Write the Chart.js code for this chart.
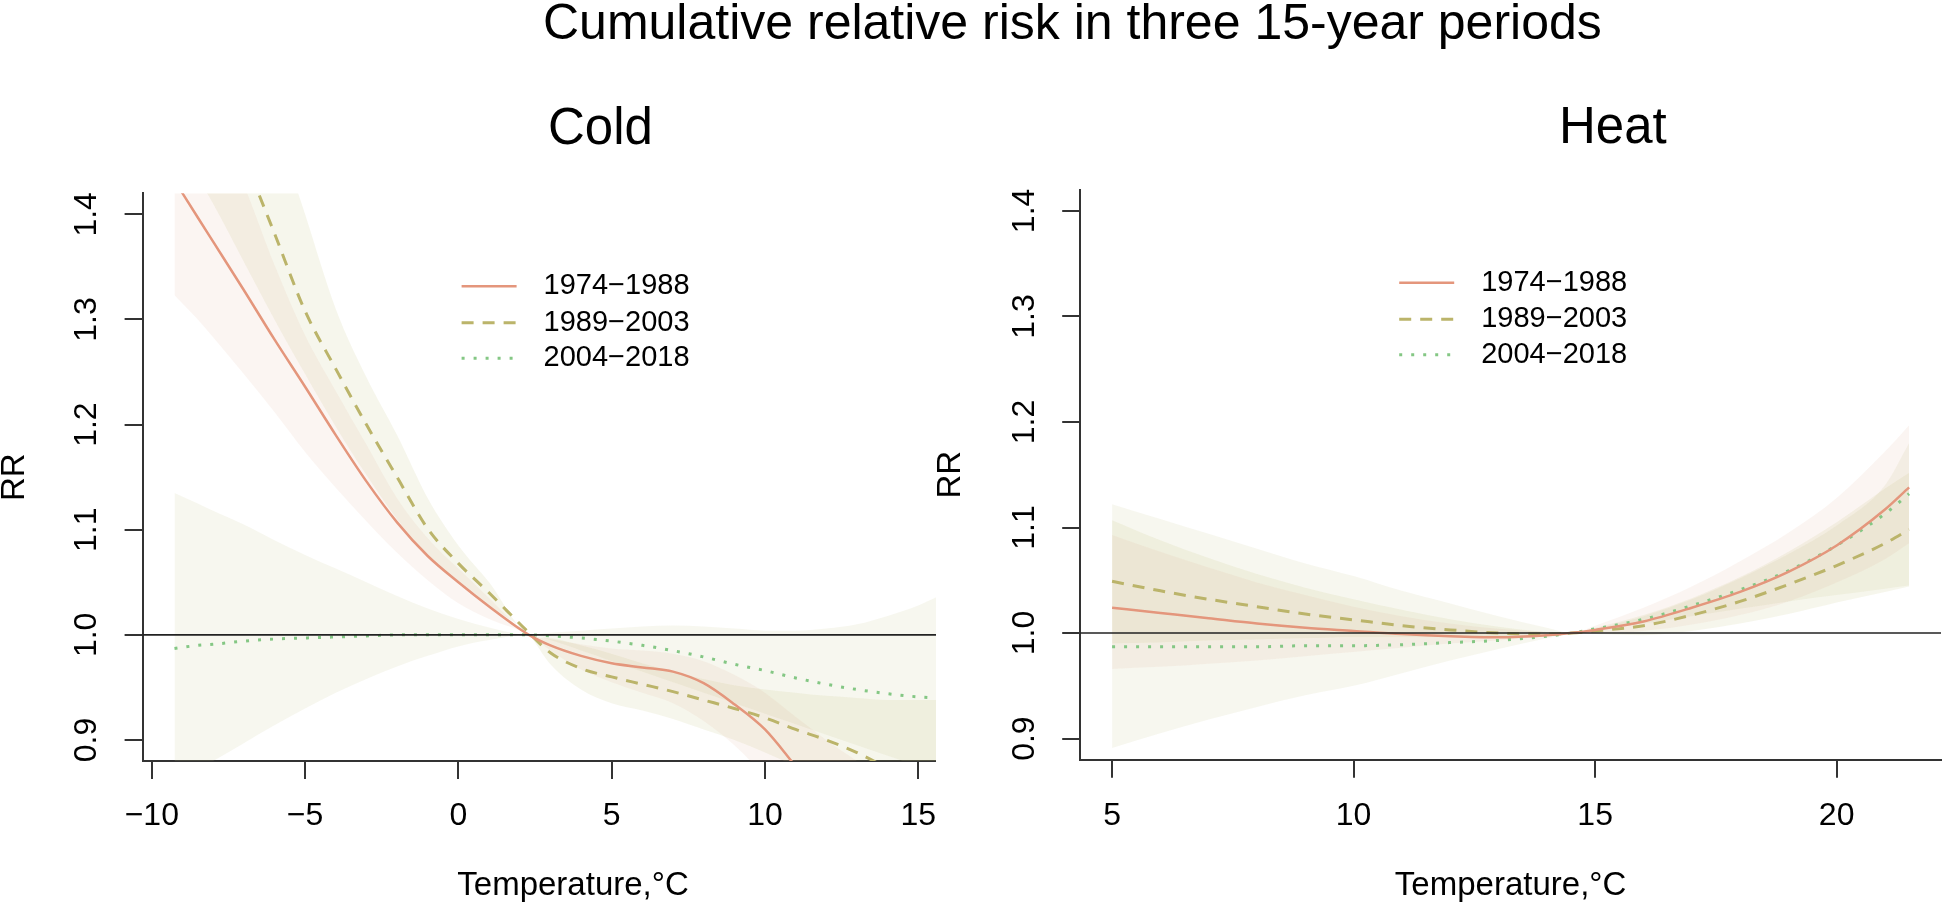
<!DOCTYPE html>
<html>
<head>
<meta charset="utf-8">
<script src="https://cdn.jsdelivr.net/npm/chart.js@4.4.0/dist/chart.umd.min.js"></script>
<style>
  body { margin:0; background:#fff; width:1944px; height:909px; overflow:hidden; position:relative;
         font-family:"Liberation Sans", Arial, sans-serif; }
  .txt { position:absolute; line-height:1; white-space:nowrap; color:#000; }
  #cajaFrio { position:absolute; left:0; top:0; width:936px; height:909px; overflow:hidden; }
  #cajaCalor { position:absolute; left:936px; top:0; width:1008px; height:909px; }
</style>
</head>
<body>
<div id="cajaFrio"><canvas id="graficoFrio" width="1010" height="909"></canvas></div>
<div id="cajaCalor"><canvas id="graficoCalor" width="1008" height="909"></canvas></div>
<div class="txt" style="left:543px;top:-3px;font-size:50px">Cumulative relative risk in three 15-year periods</div>
<div class="txt" style="left:548px;top:101px;font-size:51px">Cold</div>
<div class="txt" style="left:1559px;top:100px;font-size:51px">Heat</div>
<script>
// Datos
const periodos = ["1974−1988", "1989−2003", "2004−2018"];
const ticksRR = [0.9, 1.0, 1.1, 1.2, 1.3, 1.4];
const ticksFrio = [-10, -5, 0, 5, 10, 15];
const ticksCalor = [5, 10, 15, 20];

// Panel frio (Cold)
const tempFrio = [-9.26, -8.5, -8, -7, -6, -5, -4, -3, -2, -1, 0, 1, 2.3, 3, 4, 5, 6, 7, 8, 9, 10, 11, 12, 13, 14, 15, 15.6];
const rrFrio1974 = [1.432, 1.397, 1.374, 1.328, 1.281, 1.236, 1.19, 1.146, 1.107, 1.075, 1.05, 1.027, 1.0, 0.99, 0.98, 0.973, 0.969, 0.965, 0.954, 0.934, 0.91, 0.875, null, null, null, null, null];
const rrFrio1989 = [null, null, null, 1.455, 1.382, 1.308, 1.253, 1.2, 1.15, 1.101, 1.068, 1.04, 1.002, 0.983, 0.968, 0.96, 0.953, 0.946, 0.938, 0.93, 0.921, 0.91, 0.9, 0.888, 0.873, null, null];
const rrFrio2004 = [0.987, 0.99, 0.991, 0.994, 0.996, 0.997, 0.998, 0.999, 1.0, 1.0, 1.0, 1.0, 1.0, 0.999, 0.997, 0.994, 0.99, 0.985, 0.979, 0.972, 0.966, 0.959, 0.953, 0.948, 0.944, 0.941, 0.94];
const altoFrio1974 = [1.6, 1.53, 1.49, 1.428, 1.352, 1.285, 1.232, 1.181, 1.13, 1.092, 1.063, 1.035, 1.0, 0.996, 0.991, 0.987, 0.985, 0.982, 0.975, 0.962, 0.945, 0.922, 0.9, 0.88, 0.86, 0.845, 0.84];
const bajoFrio1974 = [1.323, 1.3, 1.283, 1.248, 1.212, 1.174, 1.14, 1.108, 1.078, 1.052, 1.03, 1.015, 1.0, 0.985, 0.967, 0.955, 0.945, 0.935, 0.918, 0.895, 0.865, 0.83, 0.8, 0.78, 0.76, 0.75, 0.74];
const altoFrio1989 = [1.9, 1.8, 1.72, 1.6, 1.49, 1.4, 1.31, 1.245, 1.19, 1.13, 1.085, 1.05, 1.0, 0.997, 0.99, 0.982, 0.973, 0.965, 0.958, 0.952, 0.948, 0.945, 0.942, 0.94, 0.938, 0.938, 0.938];
const bajoFrio1989 = [1.47, 1.435, 1.41, 1.355, 1.3, 1.248, 1.198, 1.152, 1.11, 1.076, 1.05, 1.028, 1.0, 0.972, 0.948, 0.935, 0.928, 0.92, 0.91, 0.9, 0.888, 0.875, 0.86, 0.845, 0.83, 0.815, 0.81];
const altoFrio2004 = [1.135, 1.125, 1.118, 1.105, 1.09, 1.076, 1.063, 1.05, 1.037, 1.025, 1.015, 1.007, 1.0, 1.002, 1.004, 1.006, 1.008, 1.009, 1.008, 1.006, 1.004, 1.004, 1.006, 1.01, 1.018, 1.028, 1.036];
const bajoFrio2004 = [0.86, 0.872, 0.88, 0.897, 0.914, 0.93, 0.945, 0.958, 0.97, 0.98, 0.989, 0.995, 1.0, 0.995, 0.985, 0.975, 0.965, 0.955, 0.945, 0.935, 0.925, 0.915, 0.905, 0.895, 0.885, 0.875, 0.87];

// Panel calor (Heat)
const tempCalor = [5, 6, 7, 8, 9, 10, 11, 12, 13, 14, 14.5, 15, 16, 17, 18, 19, 20, 21, 21.5];
const rrCalor1974 = [1.024, 1.019, 1.014, 1.009, 1.005, 1.002, 0.999, 0.997, 0.996, 0.998, 1.0, 1.003, 1.011, 1.024, 1.039, 1.058, 1.083, 1.117, 1.138];
const rrCalor1989 = [1.049, 1.04, 1.032, 1.025, 1.018, 1.0125, 1.007, 1.003, 1.0, 0.999, 1.0, 1.002, 1.007, 1.017, 1.03, 1.046, 1.064, 1.085, 1.098];
const rrCalor2004 = [0.987, 0.987, 0.987, 0.987, 0.988, 0.988, 0.989, 0.991, 0.993, 0.997, 1.0, 1.004, 1.013, 1.026, 1.041, 1.059, 1.083, 1.113, 1.132];
const altoCalor1974 = [1.093, 1.077, 1.062, 1.048, 1.036, 1.025, 1.016, 1.009, 1.004, 1.001, 1.0, 1.007, 1.024, 1.044, 1.068, 1.095, 1.128, 1.172, 1.197];
const bajoCalor1974 = [0.966, 0.968, 0.971, 0.974, 0.978, 0.982, 0.986, 0.99, 0.993, 0.997, 1.0, 1.0, 1.002, 1.008, 1.017, 1.03, 1.048, 1.07, 1.085];
const altoCalor1989 = [1.107, 1.088, 1.071, 1.056, 1.043, 1.032, 1.022, 1.013, 1.006, 1.001, 1.0, 1.005, 1.017, 1.033, 1.053, 1.077, 1.105, 1.137, 1.152];
const bajoCalor1989 = [0.99, 0.991, 0.993, 0.994, 0.995, 0.996, 0.996, 0.996, 0.997, 0.998, 1.0, 0.999, 0.998, 1.002, 1.009, 1.018, 1.029, 1.039, 1.044];
const altoCalor2004 = [1.122, 1.108, 1.094, 1.08, 1.066, 1.054, 1.04, 1.028, 1.016, 1.005, 1.0, 1.004, 1.016, 1.032, 1.052, 1.075, 1.102, 1.14, 1.18];
const bajoCalor2004 = [0.891, 0.905, 0.918, 0.93, 0.941, 0.95, 0.962, 0.974, 0.985, 0.995, 1.0, 1.003, 1.009, 1.016, 1.023, 1.03, 1.036, 1.042, 1.045];

const fuente = '"Liberation Sans", Arial, sans-serif';
const colores = ["#E4967C", "#BBB46A", "#84C784"];
const rellenos = ["rgba(222,168,140,0.11)", "rgba(189,183,107,0.13)", "rgba(200,195,140,0.14)"];
const trazos = [[], [12, 9], [3, 9]];

function puntos(xs, ys) {
    return xs.map((x, i) => ({x: x, y: ys[i]}));
}

function crearDatos(xs, lineas, altos, bajos) {
    const datasets = [];
    lineas.forEach((ys, i) => {
        datasets.push({
            label: periodos[i], data: puntos(xs, ys), borderColor: colores[i],
            borderWidth: i === 0 ? 2.5 : 3, borderDash: trazos[i], pointRadius: 0,
            fill: false, cubicInterpolationMode: 'monotone', clip: 0
        });
    });
    altos.forEach((ys, i) => {
        datasets.push({ data: puntos(xs, ys), borderColor: 'rgba(0,0,0,0)', borderWidth: 1,
            pointRadius: 0, fill: false, cubicInterpolationMode: 'monotone' });
        datasets.push({ data: puntos(xs, bajos[i]), borderColor: 'rgba(0,0,0,0)', borderWidth: 1,
            pointRadius: 0, fill: '-1', backgroundColor: rellenos[i], cubicInterpolationMode: 'monotone' });
    });
    return { datasets };
}

// linea horizontal en RR = 1
const lineaRef = {
    id: 'lineaRef',
    afterDatasetsDraw(chart) {
        const {ctx, chartArea, scales} = chart;
        const y = scales.y.getPixelForValue(1);
        ctx.save();
        ctx.strokeStyle = '#222';
        ctx.lineWidth = 1.6;
        ctx.beginPath();
        ctx.moveTo(chartArea.left, y);
        ctx.lineTo(chartArea.right, y);
        ctx.stroke();
        ctx.restore();
    }
};

// leyenda dentro del area
const leyenda = {
    id: 'leyenda',
    afterDraw(chart) {
        const {ctx, chartArea} = chart;
        const filas = [93, 129.5, 165];
        ctx.save();
        ctx.font = '29px ' + fuente;
        ctx.textBaseline = 'middle';
        chart.data.datasets.slice(0, 3).forEach((ds, i) => {
            const y = chartArea.top + filas[i];
            ctx.strokeStyle = ds.borderColor;
            ctx.lineWidth = ds.borderWidth;
            ctx.setLineDash(ds.borderDash);
            ctx.beginPath();
            ctx.moveTo(chartArea.left + 319, y);
            ctx.lineTo(chartArea.left + 374, y);
            ctx.stroke();
            ctx.setLineDash([]);
            ctx.fillStyle = '#000';
            ctx.fillText(ds.label, chartArea.left + 401, y);
        });
        ctx.restore();
    }
};

function escalas(min, max, ticksX, anchoY, altoX, padX) {
    return {
        x: {
            type: 'linear', min: min, max: max,
            afterBuildTicks: s => { s.ticks = ticksX.map(v => ({value: v})); },
            afterFit: s => { s.height = altoX; },
            ticks: { autoSkip: false, minRotation: 0, maxRotation: 0, padding: padX, color: '#000',
                     font: {family: fuente, size: 32, lineHeight: 1},
                     callback: v => (v < 0 ? '−' + Math.abs(v) : String(v)) },
            grid: { drawOnChartArea: false, drawTicks: true, tickLength: 18, color: '#333', lineWidth: 2 },
            border: { display: true, color: '#333', width: 2 },
            title: { display: true, text: 'Temperature,°C', color: '#000',
                     font: {family: fuente, size: 33, lineHeight: 1}, padding: {top: 0, bottom: 6.5} }
        },
        y: {
            type: 'linear', min: 0.88, max: 1.42,
            afterBuildTicks: s => { s.ticks = ticksRR.map(v => ({value: v})); },
            afterFit: s => { s.width = anchoY; },
            ticks: { autoSkip: false, minRotation: 90, maxRotation: 90, crossAlign: 'center', padding: 15,
                     color: '#000', font: {family: fuente, size: 32, lineHeight: 1},
                     callback: v => v.toFixed(1) },
            grid: { drawOnChartArea: false, drawTicks: true, tickLength: 18, color: '#333', lineWidth: 2 },
            border: { display: true, color: '#333', width: 2 },
            title: { display: true, text: 'RR', color: '#000',
                     font: {family: fuente, size: 33, lineHeight: '30px'}, padding: {top: 0, bottom: 0} }
        }
    };
}

function crearGrafico(id, datos, ejes, padding) {
    const canvas = document.querySelector(id);
    return new Chart(canvas, {
        type: 'line',
        data: datos,
        options: {
            responsive: false, animation: false, events: [],
            devicePixelRatio: 1,
            layout: { padding: padding },
            plugins: { legend: {display: false}, tooltip: {enabled: false}, title: {display: false} },
            scales: ejes
        },
        plugins: [lineaRef, leyenda]
    });
}

crearGrafico('#graficoFrio',
    crearDatos(tempFrio, [rrFrio1974, rrFrio1989, rrFrio2004],
        [altoFrio1974, altoFrio1989, altoFrio2004], [bajoFrio1974, bajoFrio1989, bajoFrio2004]),
    escalas(-10.3, 17.78, ticksFrio, 142.6, 148, 21),
    {top: 193.3, left: 0, right: 6.5, bottom: 0});

crearGrafico('#graficoCalor',
    crearDatos(tempCalor, [rrCalor1974, rrCalor1989, rrCalor2004],
        [altoCalor1974, altoCalor1989, altoCalor2004], [bajoCalor1974, bajoCalor1989, bajoCalor2004]),
    escalas(4.34, 22.16, ticksCalor, 144.2, 149.3, 22.3),
    {top: 189.8, left: 0, right: 3, bottom: 0});
</script>
</body>
</html>
